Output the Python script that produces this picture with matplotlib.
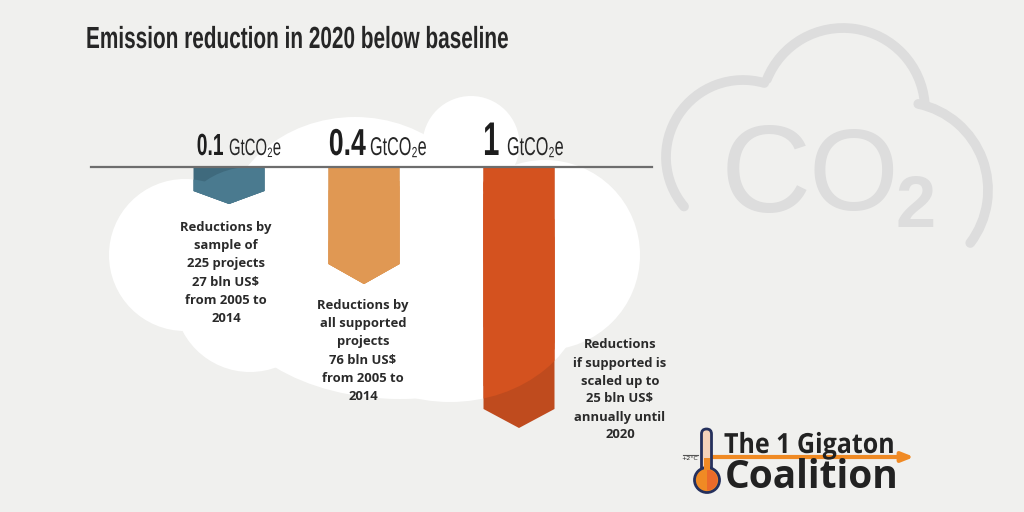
import matplotlib.pyplot as plt
from matplotlib.patches import Circle, Ellipse, Polygon, Arc, FancyBboxPatch, Wedge
from matplotlib.lines import Line2D
from matplotlib.patheffects import AbstractPathEffect
from matplotlib.transforms import Affine2D

# values
amounts = ["0.1", "0.4", "1"]
amount_sizes = [22, 27, 34]
amount_squeeze = [0.63, 0.71, 0.62]
unit_sizes = [17, 18.5, 18.5]
arrow_depths = [37, 117, 261]
arrow_colors = ["#4a7a8f", "#e09853", "#d4521f"]
arrow_dark = ["#3f6a7d", "#c98847", "#bf4b1e"]
captions = [
    "Reductions by\nsample of\n225 projects\n27 bln US$\nfrom 2005 to\n2014",
    "Reductions by\nall supported\nprojects\n76 bln US$\nfrom 2005 to\n2014",
    "Reductions\nif supported is\nscaled up to\n25 bln US$\nannually until\n2020",
]

BG = "#f0f0ee"
LINE_Y = 167


class Squeeze(AbstractPathEffect):
    # narrows real text horizontally, no condensed font is installed
    def __init__(self, sx, anchor="left"):
        super().__init__()
        self.sx = sx
        self.anchor = anchor

    def draw_path(self, renderer, gc, tpath, affine, rgbFace=None):
        m = affine.get_matrix().copy()
        width = tpath.get_extents().x1 * m[0, 0]
        if self.anchor == "right":
            m[0, 2] += (1 - self.sx) * width
        m[0, 0] *= self.sx
        renderer.draw_path(gc, tpath, Affine2D(m), rgbFace)


fig = plt.figure(figsize=(10.24, 5.12), dpi=100, facecolor=BG)
ax = fig.add_axes([0, 0, 1, 1])
ax.set_xlim(0, 1024)
ax.set_ylim(512, 0)
ax.axis("off")


# white cloud behind the arrows
def cloud_parts():
    return [Circle((185, 255), 76), Circle((250, 245), 78), Circle((250, 296), 76),
            Ellipse((355, 235), 264, 236), Circle((471, 144.5), 48.5), Circle((545, 255), 95),
            Ellipse((450, 290), 270, 224), Ellipse((400, 290), 354, 218)]


for part in cloud_parts():
    part.set(fc="white", ec="none", zorder=1)
    ax.add_patch(part)

# grey CO2 cloud outline
grey = "#dddddd"
for center, r, t1, t2 in [((743, 157), 77, 140, 286), ((843, 110), 82, 202, 355), ((900, 190), 88, -78, 37)]:
    ax.add_patch(Arc(center, 2 * r, 2 * r, theta1=t1, theta2=t2, ec=grey, lw=7, capstyle="round", zorder=1))
ax.text(721, 212, "C", fontsize=90, color=grey, family="Liberation Sans", va="baseline", ha="left", zorder=1)
ax.text(809, 210, "O", fontsize=83, color=grey, family="Liberation Sans", va="baseline", ha="left", zorder=1)
ax.text(895, 227, "2", fontsize=52, color=grey, family="Liberation Sans", weight="bold",
        va="baseline", ha="left", zorder=1)

# arrows hanging from the baseline
centers = [229, 364, 519]
tip_heights = [13, 20, 19]
half_width = 35.5
for cx, depth, th, col, dark in zip(centers, arrow_depths, tip_heights, arrow_colors, arrow_dark):
    tip = LINE_Y + depth
    shoulder = tip - th
    pts = [(cx - half_width, LINE_Y), (cx + half_width, LINE_Y),
           (cx + half_width, shoulder), (cx, tip), (cx - half_width, shoulder)]
    ax.add_patch(Polygon(pts, fc=dark, ec="none", zorder=2))
    # lighter where the arrow sits on the white cloud
    for part in cloud_parts():
        part.set_transform(ax.transData)
        p = Polygon(pts, fc=col, ec="none", zorder=3)
        ax.add_patch(p)
        p.set_clip_path(part)

ax.add_line(Line2D([91, 652], [LINE_Y, LINE_Y], color="#6d6d6d", lw=1.6, zorder=4))

# title
ax.text(86, 48, "Emission reduction in 2020 below baseline", fontsize=22, family="Liberation Sans",
        weight="bold", color="#262626", va="baseline", ha="left", zorder=5,
        path_effects=[Squeeze(0.68)])

# amounts and units
amount_right = [224, 366, 500]
unit_x = [229, 370, 507]
for i, amt in enumerate(amounts):
    ax.text(amount_right[i], 155, amt, fontsize=amount_sizes[i], family="Liberation Sans", weight="bold",
            color="#1e1e1e", ha="right", va="baseline", zorder=5,
            path_effects=[Squeeze(amount_squeeze[i], "right")])
    ax.text(unit_x[i], 155, "GtCO\u2082e", fontsize=unit_sizes[i], family=["Liberation Sans", "DejaVu Sans"],
            color="#262626", ha="left", va="baseline", zorder=5, path_effects=[Squeeze(0.63)])

# captions
caption_x = [226, 363, 620]
caption_y = [273, 351, 390]
for x, y, txt in zip(caption_x, caption_y, captions):
    ax.text(x, y, txt, fontsize=9.4, family="Open Sans", weight="bold",
            color="#2a2a2a", ha="center", va="center", linespacing=1.5, zorder=5)

# logo
orange = "#f08a24"
navy = "#25305c"
ax.annotate("", xy=(914, 457), xytext=(710, 457),
            arrowprops=dict(arrowstyle="-|>,head_width=0.28,head_length=0.7", color=orange, lw=3,
                            shrinkA=0, shrinkB=0), zorder=5)
ax.add_patch(FancyBboxPatch((701.5, 429), 10, 50, boxstyle="round,pad=0,rounding_size=5",
                            fc="#f5d3ba", ec=navy, lw=2, zorder=6))
ax.add_patch(Circle((707, 480), 12.5, fc=orange, ec=navy, lw=2, zorder=6))
ax.add_patch(Wedge((707, 480), 10.5, -90, 90, fc="#ec6a2a", ec="none", zorder=7))
ax.add_patch(Polygon([(704, 470), (710, 470), (710, 458), (704, 458)], fc=orange, ec="none", zorder=7))
ax.add_line(Line2D([683, 698], [455, 455], color="#555555", lw=0.8, zorder=5))
ax.text(690, 459, "+2°C", fontsize=4.5, color="#222222", ha="center", va="center", zorder=6)
ax.text(724, 453, "The 1 Gigaton", fontsize=20, family="Open Sans", weight="bold",
        color="#222222", ha="left", va="baseline", zorder=6, path_effects=[Squeeze(0.9)])
ax.text(725, 488, "Coalition", fontsize=28, family="Open Sans", weight="bold",
        color="#222222", ha="left", va="baseline", zorder=6)

fig.savefig("out.png", dpi=100, facecolor=BG)
